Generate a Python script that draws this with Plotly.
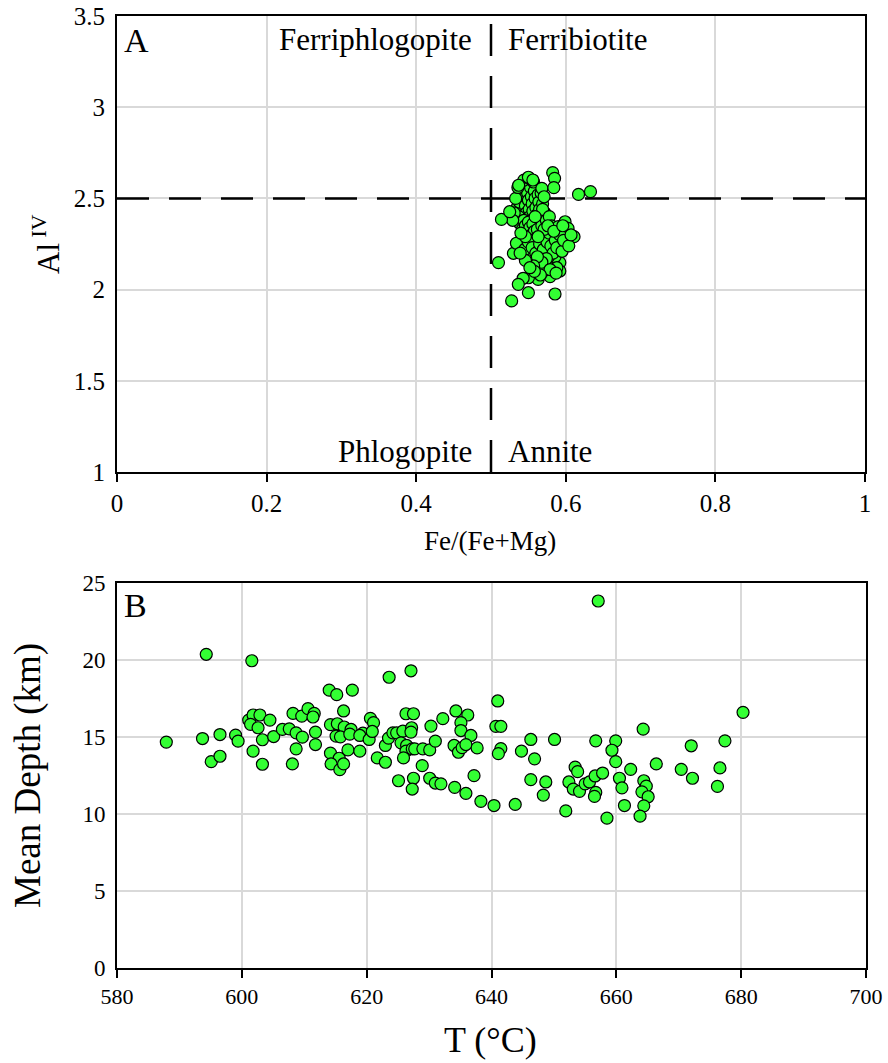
import plotly.graph_objects as go

# ---------------- Panel A data: Fe/(Fe+Mg) vs Al IV ----------------
fe_ratio = [
    0.535, 0.538, 0.540, 0.541, 0.543, 0.545, 0.546, 0.547, 0.548, 0.549, 0.550, 0.551, 0.552,
    0.553, 0.554, 0.555, 0.556, 0.557, 0.558, 0.559, 0.560, 0.561, 0.562, 0.563, 0.564, 0.565,
    0.537, 0.539, 0.542, 0.544, 0.546, 0.548, 0.550, 0.552, 0.554, 0.556, 0.558, 0.560, 0.562,
    0.566, 0.568, 0.570, 0.572, 0.574, 0.569, 0.567, 0.544, 0.551, 0.557, 0.533, 0.531, 0.529,
    0.536,
    0.550, 0.556, 0.537, 0.568, 0.571, 0.569, 0.5825, 0.585, 0.584, 0.617, 0.633, 0.514, 0.525,
    0.578, 0.581, 0.599, 0.603, 0.590, 0.611, 0.601, 0.590, 0.530, 0.510, 0.592, 0.592, 0.579,
    0.568, 0.563, 0.550, 0.543, 0.5365, 0.550, 0.5856, 0.5276, 0.554, 0.563, 0.572, 0.581, 0.5856,
    0.577, 0.559, 0.541, 0.534,
    0.545, 0.550, 0.555, 0.560, 0.565, 0.570, 0.575, 0.578, 0.580, 0.583, 0.586, 0.588, 0.592,
    0.595, 0.597, 0.574, 0.568, 0.562, 0.557, 0.571, 0.576, 0.584, 0.588, 0.579, 0.566, 0.558,
    0.546, 0.552, 0.539, 0.587, 0.604, 0.607, 0.596, 0.546, 0.540, 0.563, 0.559,
]
al_iv = [
    2.45, 2.48, 2.52, 2.55, 2.57, 2.50, 2.46, 2.42, 2.58, 2.53, 2.49, 2.44, 2.40,
    2.56, 2.51, 2.47, 2.43, 2.38, 2.54, 2.50, 2.45, 2.41, 2.36, 2.52, 2.48, 2.44,
    2.40, 2.36, 2.33, 2.38, 2.35, 2.31, 2.37, 2.34, 2.30, 2.36, 2.32, 2.28, 2.33,
    2.39, 2.35, 2.30, 2.42, 2.38, 2.47, 2.53, 2.60, 2.61, 2.59, 2.50, 2.42, 2.38,
    2.56,
    2.616, 2.601, 2.572, 2.555, 2.509, 2.440, 2.641, 2.610, 2.559, 2.522, 2.537, 2.385, 2.427,
    2.400, 2.349, 2.372, 2.336, 2.345, 2.290, 2.254, 2.254, 2.199, 2.148, 2.148, 2.102, 2.071,
    2.093, 2.056, 2.065, 2.062, 2.029, 1.983, 1.976, 1.938, 2.199, 2.144, 2.107, 2.144, 2.180,
    2.180, 2.254, 2.272, 2.254,
    2.22, 2.26, 2.23, 2.20, 2.25, 2.22, 2.26, 2.31, 2.24, 2.20, 2.27, 2.23, 2.30,
    2.21, 2.27, 2.17, 2.15, 2.18, 2.13, 2.33, 2.35, 2.32, 2.12, 2.11, 2.08, 2.10,
    2.16, 2.12, 2.20, 2.09, 2.24, 2.30, 2.35, 2.29, 2.31, 2.29, 2.40,
]

# ---------------- Panel B data: T vs Mean Depth ----------------
temp_c = [
    594.3, 601.6, 587.9, 593.7, 596.5, 599.0, 599.4, 595.1, 596.5, 601.1, 601.8, 602.9, 604.5,
    601.4, 602.6, 603.3, 605.1, 601.8, 603.3, 606.5, 607.6, 608.2, 608.7, 608.7, 608.1,
    609.7, 609.6, 610.6, 611.6, 611.4, 611.8, 611.8, 614.0, 615.2, 617.7, 616.3, 614.2, 615.3,
    616.4, 617.5, 615.1, 615.8, 617.3, 614.2, 615.6, 614.3, 615.7, 616.3, 617.0, 618.9, 619.4,
    618.9, 620.4, 620.6, 621.1, 620.9, 621.7, 623.0, 623.6, 627.1, 623.0, 623.5, 624.2, 624.8,
    625.8, 626.3, 627.5, 627.2, 627.1, 625.5, 626.4, 626.3, 627.3, 627.7, 629.0, 630.1, 631.0,
    630.3, 632.2, 625.9, 628.9, 625.1, 627.5, 627.3, 630.1, 631.0, 631.9, 634.1, 635.9, 637.2,
    634.3, 636.2, 635.1, 635.1, 636.7, 634.0, 634.7, 635.3, 635.9, 637.7, 638.3,
    640.4, 641.0, 640.7, 641.5, 641.5, 641.1, 643.8, 644.8, 646.3, 646.9, 646.3, 648.7, 648.3,
    650.1, 651.9, 653.4, 653.8, 652.4, 653.1, 654.1, 655.0, 655.7, 656.6, 657.8, 656.7, 656.5,
    657.1, 656.7, 659.9, 659.3, 659.9, 658.5, 660.5, 660.9, 661.3, 662.3, 664.3, 666.4, 664.4,
    664.8, 664.1, 665.1, 664.4, 663.8, 670.4, 672.0, 672.2, 677.4, 676.6, 676.2, 680.3,
]
depth_km = [
    20.37, 19.95, 14.67, 14.90, 15.16, 15.12, 14.73, 13.40, 13.75, 16.10, 16.43, 16.43, 16.10,
    15.82, 15.60, 14.82, 15.03, 14.08, 13.23, 15.49, 15.53, 16.53, 15.27, 14.23, 13.25,
    14.99, 16.36, 16.84, 16.53, 16.30, 15.32, 14.51, 18.04, 17.75, 18.04, 16.69, 15.80, 15.86,
    15.65, 15.49, 15.06, 15.01, 15.19, 13.95, 13.62, 13.25, 12.88, 13.25, 14.16, 14.08, 15.25,
    15.10, 14.84, 16.21, 15.93, 15.36, 13.64, 13.36, 18.88, 19.30, 14.45, 14.93, 15.27, 15.27,
    15.38, 16.51, 16.51, 15.60, 15.32, 14.62, 14.45, 14.08, 14.23, 14.23, 14.23, 14.16, 14.73,
    15.71, 16.19, 13.64, 13.14, 12.16, 12.32, 11.62, 12.32, 12.01, 11.96, 11.73, 11.34, 12.49,
    16.69, 16.43, 15.93, 15.42, 15.10, 14.45, 14.01, 14.31, 14.51, 14.29, 10.82,
    10.55, 17.34, 15.69, 15.69, 14.25, 13.92, 10.62, 14.08, 14.84, 13.58, 12.23, 12.08, 11.23,
    14.84, 10.20, 13.04, 12.75, 12.08, 11.62, 11.47, 11.96, 12.08, 12.47, 12.66, 11.40, 11.14,
    23.83, 14.75, 14.75, 14.14, 13.40, 9.73, 12.32, 11.70, 10.55, 12.90, 15.51, 13.25, 12.16,
    11.81, 11.44, 11.12, 10.53, 9.86, 12.90, 14.43, 12.32, 14.75, 12.99, 11.79, 16.60,
]

A_x_ticks = [0, 0.2, 0.4, 0.6, 0.8, 1]
A_x_labels = ["0", "0.2", "0.4", "0.6", "0.8", "1"]
A_y_ticks = [1, 1.5, 2, 2.5, 3, 3.5]
A_y_labels = ["1", "1.5", "2", "2.5", "3", "3.5"]
B_x_ticks = [580, 600, 620, 640, 660, 680, 700]
B_y_ticks = [0, 5, 10, 15, 20, 25]

FONT = "Liberation Serif"
GREEN = "#33FF33"
GRID = "#D9D9D9"

W, H = 888, 1063

def px(x):
    return x / W

def py(y):
    return 1 - y / H

marker = dict(size=12, color=GREEN, line=dict(color="black", width=1.2))

fig = go.Figure()
fig.add_trace(go.Scatter(x=fe_ratio, y=al_iv, mode="markers", marker=marker,
                         xaxis="x", yaxis="y", showlegend=False))
fig.add_trace(go.Scatter(x=temp_c, y=depth_km, mode="markers", marker=marker,
                         xaxis="x2", yaxis="y2", showlegend=False))

base = dict(showline=True, linecolor="black", linewidth=2, mirror=True,
            showgrid=True, gridcolor=GRID, gridwidth=2, zeroline=False,
            automargin=False)
xt = dict(ticks="outside", ticklen=8, tickwidth=2, tickcolor="black")
yt = dict(ticks="outside", ticklen=5, tickwidth=1, tickcolor="rgba(0,0,0,0)")

fig.update_layout(
    width=W, height=H,
    margin=dict(l=0, r=0, t=0, b=0, autoexpand=False),
    paper_bgcolor="white", plot_bgcolor="white",
    font=dict(family=FONT, color="black"),
    xaxis=dict(domain=[px(117), px(865)], range=[0, 1], tickvals=A_x_ticks,
               ticktext=A_x_labels, tickfont=dict(size=25, family=FONT),
               anchor="y", **base, **xt),
    yaxis=dict(domain=[py(472), py(16)], range=[1, 3.5], tickvals=A_y_ticks,
               ticktext=A_y_labels, tickfont=dict(size=25, family=FONT),
               anchor="x", **base, **yt),
    xaxis2=dict(domain=[px(117), px(866)], range=[580, 700], tickvals=B_x_ticks,
                tickfont=dict(size=22, family=FONT), anchor="y2", **base, **xt),
    yaxis2=dict(domain=[py(968), py(583)], range=[0, 25], tickvals=B_y_ticks,
                tickfont=dict(size=23, family=FONT), anchor="x2", **base, **yt),
)

# dashed classification lines in panel A
dash = "32px,20px"
fig.add_shape(type="line", xref="x", yref="y", x0=0.5, x1=0.5, y0=1, y1=3.5,
              line=dict(color="black", width=2.5, dash=dash), layer="between")
fig.add_shape(type="line", xref="x", yref="y", x0=0, x1=1, y0=2.5, y1=2.5,
              line=dict(color="black", width=2.5, dash=dash), layer="between")

ann = []
def field(text, x, y, anchor):
    ann.append(dict(text=text, x=x, y=y, xref="x", yref="y", xanchor=anchor,
                    yanchor="middle", showarrow=False,
                    font=dict(size=31, family=FONT, color="black")))

field("Ferriphlogopite", 0.477, 3.37, "right")
field("Ferribiotite", 0.52, 3.37, "left")
field("Phlogopite", 0.477, 1.115, "right")
field("Annite", 0.52, 1.115, "left")

def paper_text(text, x, y, size, angle=0, xanchor="center"):
    ann.append(dict(text=text, x=px(x), y=py(y), xref="paper", yref="paper",
                    xanchor=xanchor, yanchor="middle", showarrow=False, textangle=angle,
                    font=dict(size=size, family=FONT, color="black")))

paper_text("A", 122, 40, 34, xanchor="left")
paper_text("B", 122, 605, 34, xanchor="left")
paper_text("Fe/(Fe+Mg)", 490, 541, 27)
paper_text("Al<sup> IV</sup>", 46, 244, 31, angle=-90)
paper_text("T (°C)", 490, 1040, 36)
paper_text("Mean Depth (km)", 28, 776, 37, angle=-90)

fig.update_layout(annotations=ann)

fig.write_html("out.html")
